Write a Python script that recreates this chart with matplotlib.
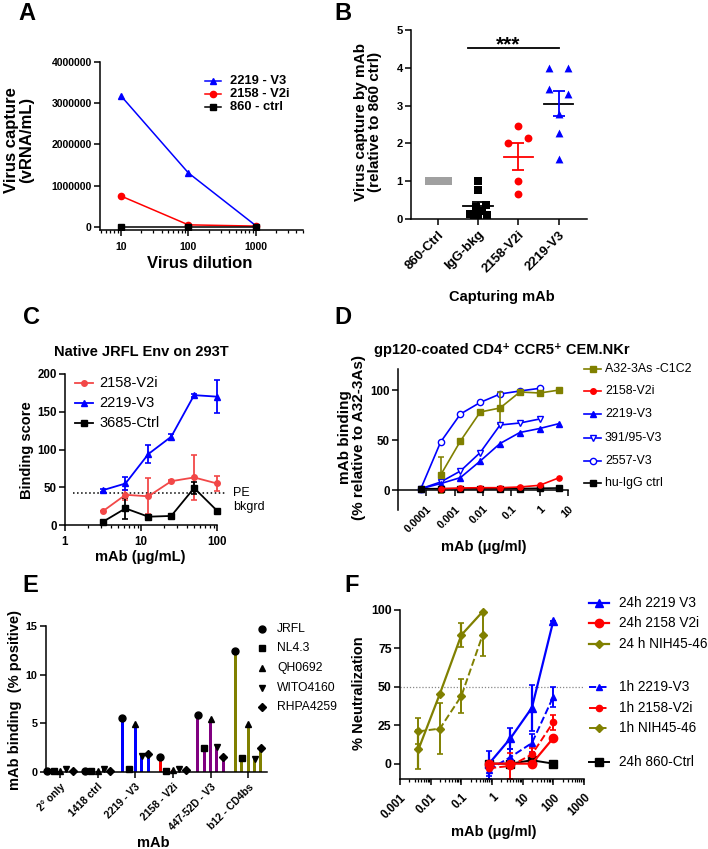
import numpy as np
import matplotlib
matplotlib.use("Agg")
import matplotlib.pyplot as plt
from matplotlib.lines import Line2D
from matplotlib.ticker import FixedLocator, FixedFormatter, LogLocator, NullFormatter

W, H = 708, 849

plt.rcParams["font.family"] = ["Liberation Sans", "DejaVu Sans"]
plt.rcParams["font.weight"] = "bold"

BLUE = "#0000ff"
RED = "#ff0000"
LRED = "#f24848"
OLIVE = "#808000"
PURPLE = "#800080"
GRAY = "#a0a0a0"

# ---- A: virus capture vs dilution ----
a_dilution = [10, 100, 1000]
a_2219 = [3180000, 1310000, 30000]
a_2158 = [750000, 50000, 20000]
a_860 = [5000, 5000, 5000]

# ---- B: relative capture ----
b_groups = ["860-Ctrl", "IgG-bkg", "2158-V2i", "2219-V3"]
b_860 = [1.0, 1.0, 1.0, 1.0, 1.0, 1.0, 1.0]
b_igg = [1.0, 0.78, 0.38, 0.32, 0.22, 0.12, 0.1, 0.1, 0.1]
b_2158 = [2.0, 2.46, 2.13, 1.0, 0.67]
b_2219 = [4.0, 4.0, 3.43, 3.31, 2.77, 2.28, 1.58]
# horizontal scatter offsets of the points
b_860_dx = [-0.22, -0.14, -0.06, 0.02, 0.1, 0.18, 0.26]
b_igg_dx = [0.0, 0.0, 0.2, -0.05, 0.1, -0.2, 0.0, 0.22, -0.1]
b_2158_dx = [-0.25, 0.0, 0.24, 0.0, 0.0]
b_2219_dx = [-0.23, 0.23, -0.23, 0.23, 0.0, 0.0, 0.0]

# ---- C: native JRFL Env binding ----
c_conc = [3.125, 6.25, 12.5, 25, 50, 100]
c_2158 = [18, 40, 38, 58, 63, 55]
c_2158_err = [0, 7, 24, 2, 30, 10]
c_2219 = [46, 55, 94, 117, 172, 170]
c_2219_err = [2, 8, 12, 4, 2, 22]
c_3685 = [4, 22, 11, 12, 49, 19]
c_3685_err = [0, 14, 0, 0, 8, 0]
c_pe_bkgrd = 42

# ---- D: gp120-coated CEM.NKr ----
d_conc = [6.4e-5, 3.2e-4, 1.6e-3, 8e-3, 0.04, 0.2, 1, 5]
d_a32 = [15, 49, 78, 82, 98, 97, 100]
d_a32_err = [18, 0, 0, 16, 0, 2, 0]
d_2158 = [1.3, 2, 2.3, 2.3, 3, 4.7, 12.4]
d_2219 = [1.3, 6.4, 12.4, 29, 46.5, 57.5, 61.5, 66.5]
d_391 = [1.3, 8, 19, 37.5, 65, 67, 71]
d_2557 = [1.3, 48, 76, 87.6, 96, 99, 101.7]
d_igg = [1.3, 1.3, 1.3, 1.3, 1.3, 1.5, 1.7, 2]

# ---- E: mAb binding to infected cells ----
e_mabs = ["2\u00b0 only", "1418 ctrl", "2219 - V3", "2158 - V2i", "447-52D - V3", "b12 - CD4bs"]
e_strains = ["JRFL", "NL4.3", "QH0692", "WITO4160", "RHPA4259"]
e_jrfl = [0.1, 0.15, 5.5, 1.5, 5.9, 12.4]
e_nl43 = [0.15, 0.15, 0.3, 0.1, 2.5, 1.4]
e_qh0692 = [0.1, 0.1, 4.9, 0.2, 5.4, 4.9]
e_wito4160 = [0.35, 0.35, 1.6, 0.3, 2.6, 1.3]
e_rhpa4259 = [0.15, 0.15, 1.8, 0.2, 1.5, 2.5]
e_colors = ["black", "black", BLUE, RED, PURPLE, OLIVE]

# ---- F: neutralization ----
f_conc_mab = [0.8, 4, 20, 100]
f_conc_nih = [0.004, 0.02, 0.1, 0.5]
f_24_2219 = [0, 16.5, 36.4, 93]
f_24_2219_err = [8, 7, 15, 0]
f_24_2158 = [0, 0, 0, 16.7]
f_24_2158_err = [0, 0, 0, 0]
f_24_nih = [9.3, 45.5, 83.7, 99]
f_24_nih_err = [12.5, 0, 8, 0]
f_1_2219 = [-4, 4.3, 13.4, 43.6]
f_1_2219_err = [6, 5.5, 6, 6.5]
f_1_2158 = [-3, -1.5, 6, 27]
f_1_2158_err = [0, 8.5, 4.5, 4.8]
f_1_nih = [21, 22.8, 44, 84]
f_1_nih_err = [8.5, 16.5, 11, 14]
f_24_860 = [0, 0, 2.2, 0]


def axes_px(fig, x0, y0, x1, y1):
    return fig.add_axes([x0 / W, 1 - y1 / H, (x1 - x0) / W, (y1 - y0) / H])


def prism(ax, size=7.5):
    for s in ("top", "right"):
        ax.spines[s].set_visible(False)
    for s in ("left", "bottom"):
        ax.spines[s].set_linewidth(1.1)
    ax.tick_params(direction="out", length=4, width=1.1, labelsize=size, pad=2)
    ax.tick_params(which="minor", direction="out", length=2.5, width=0.9)
    ax.patch.set_alpha(0)


def ftext(fig, x, y, s, **kw):
    return fig.text(x / W, 1 - y / H, s, ha="center", va="center", **kw)


def key(fig, x0, x1, y, xt, label, fs, weight="normal", **style):
    fig.add_artist(Line2D([x0 / W, (x0 + x1) / 2 / W, x1 / W], [1 - y / H] * 3,
                          transform=fig.transFigure, markevery=[1], **style))
    fig.text(xt / W, 1 - y / H, label, ha="left", va="center", fontsize=fs, weight=weight)


def log_minor(ax):
    ax.xaxis.set_minor_locator(LogLocator(base=10, subs=np.arange(2, 10)))
    ax.xaxis.set_minor_formatter(NullFormatter())


fig = plt.figure(figsize=(W / 100, H / 100), dpi=100)

# ================= A =================
ax = axes_px(fig, 100, 62, 303, 230)
ax.plot(a_dilution, a_2219, "-^", color=BLUE, ms=4.5, lw=1.1)
ax.plot(a_dilution, a_2158, "-o", color=RED, ms=4.5, lw=1.1)
ax.plot(a_dilution, a_860, "-s", color="black", ms=4.5, lw=1.1)
ax.set_xscale("log")
ax.set_xlim(4.9, 5000)
ax.set_ylim(-75000, 4000000)
ax.yaxis.set_major_locator(FixedLocator([0, 1000000, 2000000, 3000000, 4000000]))
ax.yaxis.set_major_formatter(FixedFormatter(["0", "1000000", "2000000", "3000000", "4000000"]))
ax.xaxis.set_major_locator(FixedLocator([10, 100, 1000]))
ax.xaxis.set_major_formatter(FixedFormatter(["10", "100", "1000"]))
log_minor(ax)
prism(ax, 7.5)
ax.tick_params(axis="x", pad=5)
ftext(fig, 19, 140, "Virus capture\n(vRNA/mL)", rotation=90, fontsize=12, linespacing=1.05)
ftext(fig, 200, 263, "Virus dilution", fontsize=12)
key(fig, 205, 221, 81, 230, "2219 - V3", 9.3, "bold", color=BLUE, marker="^", ms=4.5, lw=1.1)
key(fig, 205, 221, 94, 230, "2158 - V2i", 9.3, "bold", color=RED, marker="o", ms=4.5, lw=1.1)
key(fig, 205, 221, 107, 230, "860 - ctrl", 9.3, "bold", color="black", marker="s", ms=4.5, lw=1.1)

# ================= B =================
ax = axes_px(fig, 411, 30, 587, 219)
b_series = [(b_860, b_860_dx, "s", GRAY), (b_igg, b_igg_dx, "s", "black"),
            (b_2158, b_2158_dx, "o", RED), (b_2219, b_2219_dx, "^", BLUE)]
b_mean_cols = [None, "black", RED, "black"]
for i, (vals, dx, mk, col) in enumerate(b_series):
    ax.scatter(np.array(dx) + i, vals, marker=mk, s=32, color=col, zorder=3, clip_on=False, lw=0)
    if b_mean_cols[i] is None:
        continue
    m = np.mean(vals)
    sem = np.std(vals, ddof=1) / np.sqrt(len(vals))
    ax.plot([i - 0.36, i + 0.36], [m, m], color=b_mean_cols[i], lw=1.3, zorder=4)
    ax.errorbar([i], [m], yerr=[sem], color=col, capsize=4.5, capthick=1.3, lw=1.3, zorder=4)
ax.plot([0.76, 3.0], [4.52, 4.52], color="black", lw=1.3, clip_on=False)
ax.text(1.75, 4.47, "***", ha="center", va="baseline", fontsize=15)
ax.set_xlim(-0.66, 3.7)
ax.set_ylim(0, 5)
ax.set_xticks(range(4))
ax.set_xticklabels(b_groups, rotation=45, ha="right", rotation_mode="anchor")
ax.set_yticks([0, 1, 2, 3, 4, 5])
prism(ax, 8)
ax.tick_params(axis="x", labelsize=9.5, pad=3)
ftext(fig, 368, 122, "Virus capture by mAb\n(relative to 860 ctrl)", rotation=90, fontsize=11,
      linespacing=1.05)
ftext(fig, 502, 297, "Capturing mAb", fontsize=10.5)

# ================= C =================
ax = axes_px(fig, 65, 374, 217, 525)
ax.errorbar(c_conc, c_2158, yerr=c_2158_err, fmt="-o", color=LRED, ms=4, lw=1.3, capsize=2.5, capthick=1.2)
ax.errorbar(c_conc, c_2219, yerr=c_2219_err, fmt="-^", color=BLUE, ms=4, lw=1.3, capsize=2.5, capthick=1.2)
ax.errorbar(c_conc, c_3685, yerr=c_3685_err, fmt="-s", color="black", ms=4, lw=1.3, capsize=2.5, capthick=1.2)
ax.plot([1.27, 130], [c_pe_bkgrd, c_pe_bkgrd], ":", color="black", lw=1.1, clip_on=False)
ax.set_xscale("log")
ax.set_xlim(1, 100)
ax.set_ylim(0, 200)
ax.xaxis.set_major_locator(FixedLocator([1, 10, 100]))
ax.xaxis.set_major_formatter(FixedFormatter(["1", "10", "100"]))
log_minor(ax)
ax.set_yticks([0, 50, 100, 150, 200])
for art in ax.get_children():
    if hasattr(art, "set_clip_on"):
        art.set_clip_on(False)
prism(ax, 8.3)
ax.tick_params(axis="x", pad=4)
ftext(fig, 141, 352, "Native JRFL Env on 293T", fontsize=10.5)
ftext(fig, 27, 450, "Binding score", rotation=90, fontsize=10.5)
ftext(fig, 140, 557, "mAb (\u03bcg/mL)", fontsize=10.5)
fig.text(233 / W, 1 - 500 / H, "PE\nbkgrd", ha="left", va="center", fontsize=9, weight="normal",
         linespacing=1.3)
key(fig, 75, 93, 383, 99, "2158-V2i", 10.5, color=LRED, marker="o", ms=4, lw=1.3)
key(fig, 75, 93, 403, 99, "2219-V3", 10.5, color=BLUE, marker="^", ms=4, lw=1.3)
key(fig, 75, 93, 423, 99, "3685-Ctrl", 10.5, color="black", marker="s", ms=4, lw=1.3)

# ================= D =================
ax = axes_px(fig, 398, 369, 568, 510)
ax.plot(d_conc[:7], d_2557, "-o", color=BLUE, mfc="white", ms=4.5, lw=1.2, clip_on=False, zorder=3)
ax.errorbar(d_conc[1:], d_a32, yerr=d_a32_err, fmt="-s", color=OLIVE, ms=4, lw=1.2, capsize=2.5,
            capthick=1.1, zorder=3)
ax.plot(d_conc[:7], d_391, "-v", color=BLUE, mfc="white", ms=4.5, lw=1.2, clip_on=False, zorder=3)
ax.plot(d_conc, d_2219, "-^", color=BLUE, ms=3.8, lw=1.2, clip_on=False, zorder=3)
ax.plot(d_conc, d_igg, "-s", color="black", ms=3.8, lw=1.2, clip_on=False, zorder=4)
ax.plot(d_conc[1:], d_2158, "-o", color=RED, ms=3.8, lw=1.2, clip_on=False, zorder=4)
ax.set_xscale("log")
ax.set_xlim(1e-5, 10)
ax.set_ylim(-20, 121)
ax.spines["bottom"].set_position(("data", 0))
ax.xaxis.set_major_locator(FixedLocator([1e-4, 1e-3, 1e-2, 0.1, 1, 10]))
ax.xaxis.set_major_formatter(FixedFormatter(["0.0001", "0.001", "0.01", "0.1", "1", "10"]))
ax.xaxis.set_minor_locator(FixedLocator([]))
ax.set_yticks([0, 50, 100])
prism(ax, 8.3)
ax.tick_params(axis="x", labelsize=7.8, pad=6)
plt.setp(ax.get_xticklabels(), rotation=45, ha="right", rotation_mode="anchor")
ftext(fig, 502, 350, "gp120-coated CD4\u207a CCR5\u207a CEM.NKr", fontsize=10.5)
ftext(fig, 352, 437, "mAb binding\n(% relative to A32-3As)", rotation=90, fontsize=11,
      linespacing=1.05)
ftext(fig, 484, 547, "mAb (\u03bcg/ml)", fontsize=10.5)
key(fig, 584, 601, 369, 605, "A32-3As -C1C2", 8.9, color=OLIVE, marker="s", ms=4, lw=1.2)
key(fig, 584, 601, 391, 605, "2158-V2i", 8.9, color=RED, marker="o", ms=4, lw=1.2)
key(fig, 584, 601, 414, 605, "2219-V3", 8.9, color=BLUE, marker="^", ms=4, lw=1.2)
key(fig, 584, 601, 438, 605, "391/95-V3", 8.9, color=BLUE, marker="v", mfc="white", ms=4.5, lw=1.2)
key(fig, 584, 601, 461, 605, "2557-V3", 8.9, color=BLUE, marker="o", mfc="white", ms=4.5, lw=1.2)
key(fig, 584, 601, 483, 605, "hu-IgG ctrl", 8.9, color="black", marker="s", ms=4, lw=1.2)

# ================= E =================
ax = axes_px(fig, 46, 626, 267, 772)
e_vals = [e_jrfl, e_nl43, e_qh0692, e_wito4160, e_rhpa4259]
e_marks = ["o", "s", "^", "v", "D"]
e_ms = [5, 5, 4.5, 4.5, 3.8]
e_off = [-0.34, -0.17, 0.0, 0.17, 0.34]
gx = np.arange(len(e_mabs))
for vals, mk, ms, off in zip(e_vals, e_marks, e_ms, e_off):
    ax.bar(gx + off, vals, width=0.08, color=e_colors, zorder=2)
    ax.plot(gx + off, vals, linestyle="none", marker=mk, ms=ms, color="black", zorder=3, clip_on=False)
ax.set_xlim(-0.37, 5.5)
ax.set_ylim(0, 15)
ax.set_xticks(gx)
ax.set_xticklabels(e_mabs, rotation=45, ha="right", rotation_mode="anchor")
ax.set_yticks([0, 5, 10, 15])
prism(ax, 7.8)
ax.tick_params(axis="x", labelsize=7.5, pad=3)
ftext(fig, 15, 700, "mAb binding  (% positive)", rotation=90, fontsize=10.5)
ftext(fig, 153, 843, "mAb", fontsize=10.5)
for lbl, mk, ms, yy in zip(e_strains, e_marks, e_ms, [629, 648, 668, 688, 707]):
    fig.add_artist(Line2D([262 / W], [1 - yy / H], transform=fig.transFigure, marker=mk, ms=ms,
                          color="black", linestyle="none"))
    fig.text(277 / W, 1 - yy / H, lbl, ha="left", va="center", fontsize=8.7, weight="normal")

# ================= F =================
ax = axes_px(fig, 400, 610, 584, 779)
ax.axhline(50, color="#888888", lw=0.9, ls=(0, (1, 1.5)), zorder=1)
kw = dict(capsize=2.5, capthick=1.2, clip_on=False)
ax.errorbar(f_conc_mab, f_24_2219, yerr=f_24_2219_err, fmt="-^", color=BLUE, ms=5.5, lw=1.6, **kw)
ax.errorbar(f_conc_mab, f_1_2219, yerr=f_1_2219_err, fmt="--^", color=BLUE, ms=4, lw=1.4, **kw)
ax.errorbar(f_conc_mab, f_24_2158, yerr=f_24_2158_err, fmt="-o", color=RED, ms=6, lw=1.6, **kw)
ax.errorbar(f_conc_mab, f_1_2158, yerr=f_1_2158_err, fmt="--o", color=RED, ms=4.5, lw=1.4, **kw)
ax.errorbar(f_conc_nih, f_24_nih, yerr=f_24_nih_err, fmt="-D", color=OLIVE, ms=4.5, lw=1.6, **kw)
ax.errorbar(f_conc_nih, f_1_nih, yerr=f_1_nih_err, fmt="--D", color=OLIVE, ms=4.5, lw=1.4, **kw)
ax.plot(f_conc_mab, f_24_860, "-s", color="black", ms=5.5, lw=1.4, clip_on=False)
ax.set_xscale("log")
ax.set_xlim(0.001, 1000)
ax.set_ylim(-10, 100)
ax.xaxis.set_major_locator(FixedLocator([0.001, 0.01, 0.1, 1, 10, 100, 1000]))
ax.xaxis.set_major_formatter(FixedFormatter(["0.001", "0.01", "0.1", "1", "10", "100", "1000"]))
log_minor(ax)
ax.set_yticks([0, 25, 50, 75, 100])
prism(ax, 8.8)
ax.tick_params(axis="x", labelsize=8.3, pad=5)
plt.setp(ax.get_xticklabels(), rotation=45, ha="right", rotation_mode="anchor")
ftext(fig, 359, 693, "% Neutralization", rotation=90, fontsize=10.5)
ftext(fig, 494, 832, "mAb (\u03bcg/ml)", fontsize=10.5)
key(fig, 589, 609, 603, 619, "24h 2219 V3", 9.8, color=BLUE, marker="^", ms=5.5, lw=1.6)
key(fig, 589, 609, 623, 619, "24h 2158 V2i", 9.8, color=RED, marker="o", ms=6, lw=1.6)
key(fig, 589, 609, 644, 619, "24 h NIH45-46", 9.8, color=OLIVE, marker="D", ms=4.5, lw=1.6)
key(fig, 589, 609, 687, 619, "1h 2219-V3", 9.8, color=BLUE, marker="^", ms=4, lw=1.4, ls="--")
key(fig, 589, 609, 708, 619, "1h 2158-V2i", 9.8, color=RED, marker="o", ms=4.5, lw=1.4, ls="--")
key(fig, 589, 609, 728, 619, "1h NIH45-46", 9.8, color=OLIVE, marker="D", ms=4.5, lw=1.4, ls="--")
key(fig, 589, 609, 762, 619, "24h 860-Ctrl", 9.8, color="black", marker="s", ms=5.5, lw=1.4)

# panel letters
for lt, x, y in [("A", 27, 14), ("B", 343, 14), ("C", 32, 318), ("D", 343, 318),
                 ("E", 30, 585), ("F", 352, 585)]:
    ftext(fig, x, y, lt, fontsize=17)

fig.savefig("out.png", dpi=100)
